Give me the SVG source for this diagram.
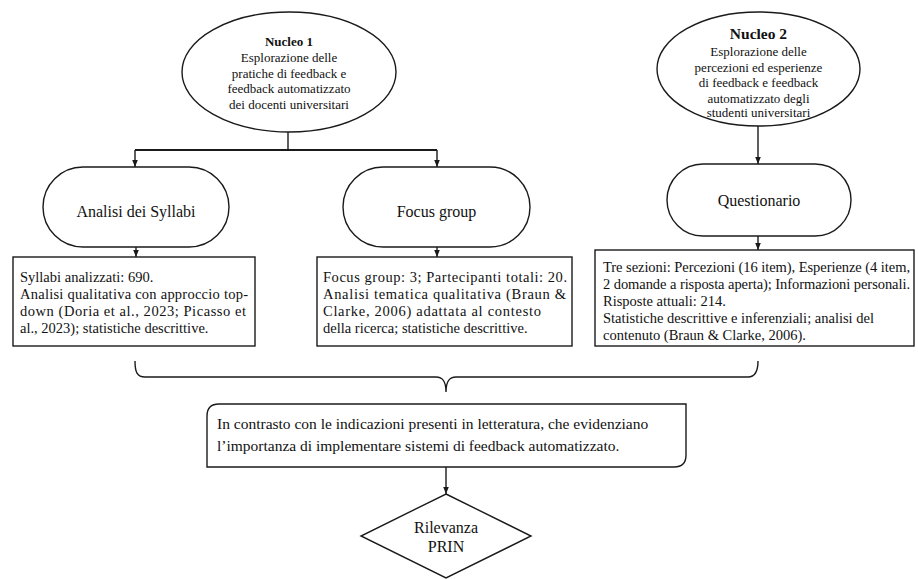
<svg xmlns="http://www.w3.org/2000/svg" width="918" height="579" viewBox="0 0 918 579">
<style>
  .shape { fill: #fff; stroke: #1a1a1a; stroke-width: 1.4; }
  .conn { fill: none; stroke: #1a1a1a; stroke-width: 1.4; }
  text { font-family: "Liberation Serif", "Times New Roman", serif; fill: #111; }
  .el { font-size: 13px; text-anchor: middle; }
  .st { font-size: 16px; text-anchor: middle; }
  .bx { font-size: 14.5px; }
  .bt { font-size: 15.5px; }
</style>
<defs>
  <marker id="arr" viewBox="0 0 10 10" refX="10" refY="5" markerWidth="7" markerHeight="7" markerUnits="userSpaceOnUse" orient="auto">
    <path d="M0,1 L10,5 L0,9 Z" fill="#1a1a1a"/>
  </marker>
</defs>
<rect width="918" height="579" fill="#fff"/>

<g id="connectors">
  <path class="conn" d="M288,132 L288,150"/>
  <path class="conn" d="M135,150 L437,150" style="stroke-width:1.8"/>
  <path class="conn" d="M135,150 L135,167" marker-end="url(#arr)"/>
  <path class="conn" d="M437,150 L437,167" marker-end="url(#arr)"/>
  <path class="conn" d="M136,247 L136,257" marker-end="url(#arr)"/>
  <path class="conn" d="M437,247 L437,257" marker-end="url(#arr)"/>
  <path class="conn" d="M758,126 L758,164" marker-end="url(#arr)"/>
  <path class="conn" d="M758,236 L758,250" marker-end="url(#arr)"/>
  <path class="conn" d="M135,361 C135,372 137,377 145,377 L436,377 C442,377 446,380 446,392 C446,380 450,377 456,377 L748,377 C755,377 758,372 758,361"/>
  <path class="conn" d="M446,467 L446,494" marker-end="url(#arr)"/>
</g>

<g id="nucleo1">
  <ellipse class="shape" cx="289" cy="72" rx="107" ry="60"/>
  <text class="el" x="289" y="46" font-weight="bold">Nucleo 1</text>
  <text class="el" x="289" y="62">Esplorazione delle</text>
  <text class="el" x="289" y="78">pratiche di feedback e</text>
  <text class="el" x="289" y="93">feedback automatizzato</text>
  <text class="el" x="289" y="109">dei docenti universitari</text>
</g>

<g id="nucleo2">
  <ellipse class="shape" cx="758.5" cy="69" rx="101.5" ry="57"/>
  <text class="el" x="758.5" y="39" font-weight="bold" style="font-size:15.5px">Nucleo 2</text>
  <text class="el" x="758.5" y="56">Esplorazione delle</text>
  <text class="el" x="758.5" y="71.5">percezioni ed esperienze</text>
  <text class="el" x="758.5" y="87">di feedback e feedback</text>
  <text class="el" x="758.5" y="102.5">automatizzato degli</text>
  <text class="el" x="758.5" y="117">studenti universitari</text>
</g>

<g id="analisi-syllabi">
  <rect class="shape" x="43" y="167" width="186" height="80" rx="40" ry="40"/>
  <text class="st" x="136" y="217">Analisi dei Syllabi</text>
</g>

<g id="focus-group">
  <rect class="shape" x="343" y="167" width="187" height="80" rx="40" ry="40"/>
  <text class="st" x="436.5" y="217">Focus group</text>
</g>

<g id="questionario">
  <rect class="shape" x="667" y="164" width="184" height="72" rx="36" ry="36"/>
  <text class="st" x="759" y="206">Questionario</text>
</g>

<g id="box-syllabi">
  <rect class="shape" x="13" y="257" width="242" height="89"/>
  <text class="bx" x="20" y="282">Syllabi analizzati: 690.</text>
  <text class="bx" x="20" y="299" textLength="228" lengthAdjust="spacing">Analisi qualitativa con approccio top-</text>
  <text class="bx" x="20" y="316" textLength="226" lengthAdjust="spacing">down (Doria et al., 2023; Picasso et</text>
  <text class="bx" x="20" y="333">al., 2023); statistiche descrittive.</text>
</g>

<g id="box-focus">
  <rect class="shape" x="317" y="257" width="255" height="89"/>
  <text class="bx" x="323" y="282" textLength="244" lengthAdjust="spacing">Focus group: 3; Partecipanti totali: 20.</text>
  <text class="bx" x="323" y="299" textLength="243" lengthAdjust="spacing">Analisi tematica qualitativa (Braun &amp;</text>
  <text class="bx" x="323" y="316" textLength="218" lengthAdjust="spacing">Clarke, 2006) adattata al contesto</text>
  <text class="bx" x="323" y="333">della ricerca; statistiche descrittive.</text>
</g>

<g id="box-questionario">
  <rect class="shape" x="595" y="250" width="319" height="96"/>
  <text class="bx" x="603" y="272" textLength="307" lengthAdjust="spacing">Tre sezioni: Percezioni (16 item), Esperienze (4 item,</text>
  <text class="bx" x="603" y="289" textLength="307" lengthAdjust="spacing">2 domande a risposta aperta); Informazioni personali.</text>
  <text class="bx" x="603" y="306">Risposte attuali: 214.</text>
  <text class="bx" x="603" y="323">Statistiche descrittive e inferenziali; analisi del</text>
  <text class="bx" x="603" y="340">contenuto (Braun &amp; Clarke, 2006).</text>
</g>

<g id="box-contrasto">
  <path class="shape" d="M219,404 L686,404 L686,455 Q686,467 674,467 L207,467 L207,416 Q207,404 219,404 Z"/>
  <text class="bt" x="217" y="429">In contrasto con le indicazioni presenti in letteratura, che evidenziano</text>
  <text class="bt" x="217" y="451">l’importanza di implementare sistemi di feedback automatizzato.</text>
</g>

<g id="rilevanza">
  <polygon class="shape" points="446,494 531,536 446,578 361,536"/>
  <text class="st" x="446" y="533">Rilevanza</text>
  <text class="st" x="446" y="552">PRIN</text>
</g>
</svg>
